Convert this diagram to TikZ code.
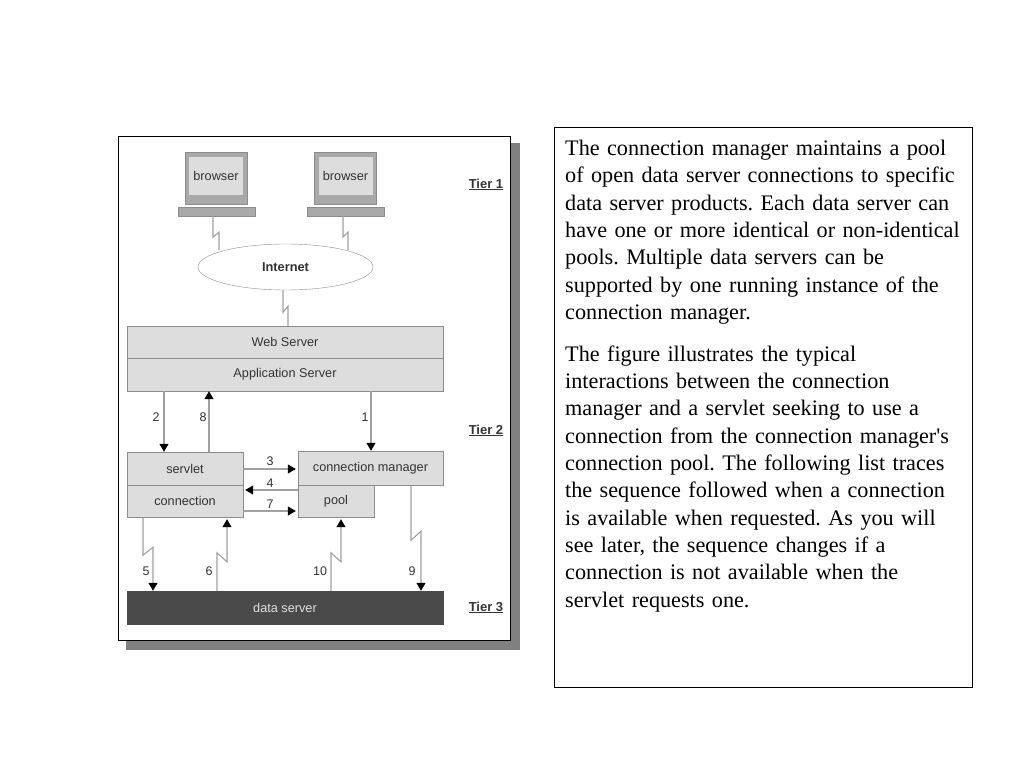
\documentclass[tikz,border=0pt]{standalone}
\usepackage{fontspec}
\newfontfamily\bodyfont{Liberation Serif}
\newfontfamily\figfont{Liberation Sans}
\usetikzlibrary{arrows.meta,shapes.geometric}
\definecolor{hatch}{HTML}{DDDDDD}
\definecolor{wiregray}{HTML}{8C8C8C}
\definecolor{linegray}{HTML}{A0A0A0}
\definecolor{shadowgray}{HTML}{808080}
\definecolor{darkfill}{HTML}{4A4A4A}
\definecolor{figtext}{HTML}{333333}
\tikzset{
  box/.style={draw=wiregray,fill=hatch,inner sep=0pt,text=figtext,font=\figfont\fontsize{12.7}{14}\selectfont},
  num/.style={inner sep=0pt,text=figtext,font=\figfont\fontsize{12.5}{14}\selectfont},
  tier/.style={inner sep=0pt,text=figtext,font=\figfont\bfseries\fontsize{13}{15}\selectfont},
  para/.style={inner sep=0pt,anchor=north west,align=left,text width=405pt,font=\bodyfont\fontsize{22.2}{27.33}\selectfont},
  wire/.style={draw=linegray,line width=1.1pt},
  arrow/.style={wire,-{Triangle[black,length=8pt,width=9pt]}}
}
\begin{document}
\begin{tikzpicture}[x=1pt,y=-1pt]
\useasboundingbox (0,0) rectangle (1024,768);

% figure panel
\fill[shadowgray] (126,143) rectangle (520,650);
\node[draw=black,fill=white,line width=0.8pt,inner sep=0pt,minimum width=392,minimum height=504] (panel) at (314,388) {};

% browsers
\node[box,fill=wiregray!75,minimum width=62,minimum height=52] (screen1) at (216,178) {};
\node[box,fill=wiregray!75,minimum width=62,minimum height=52] (screen2) at (345.5,178) {};
\node[box,draw=none,minimum width=54,minimum height=38] (browser1) at (216,176) {browser};
\node[box,draw=none,minimum width=54,minimum height=38] (browser2) at (345.5,176) {browser};
\node[box,fill=wiregray!75,minimum width=77,minimum height=9] (key1) at (216.5,211.5) {};
\node[box,fill=wiregray!75,minimum width=77,minimum height=9] (key2) at (345.5,211.5) {};

% internet and servers
\node[draw=wiregray,fill=white,ellipse,inner sep=0pt,minimum width=175,minimum height=46,text=figtext,font=\figfont\bfseries\fontsize{12.8}{14}\selectfont] (internet) at (285.5,267) {Internet};
\node[box,minimum width=316,minimum height=32] (web) at (285,342) {\raisebox{1pt}{Web Server}};
\node[box,minimum width=316,minimum height=33] (app) at (285,374.5) {Application Server};
\node[box,minimum width=116,minimum height=33] (servlet) at (185,468.5) {\raisebox{-1.5pt}{servlet}};
\node[box,minimum width=116,minimum height=32] (connection) at (185,501) {\raisebox{-1pt}{connection}};
\node[box,minimum width=145,minimum height=34] (manager) at (370.5,468) {connection manager};
\node[box,minimum width=76,minimum height=32] (pool) at (336,501) {pool};
\node[box,fill=darkfill,draw=darkfill,text=white!88!black,minimum width=316,minimum height=33] (data) at (285,607.5) {data server};

% lightning links
\draw[wire] ([xshift=-3.5pt]key1.south) -- ++(0,21) -- ++(6,-5) -- ++(0,18);
\draw[wire] ([xshift=-2.5pt]key2.south) -- ++(0,21) -- ++(5,-5) -- ++(0,18);
\draw[wire] ([xshift=-2.5pt]internet.south) -- ++(0,22) -- ++(5,-6) -- (web.north -| 288,0);

% arrows
\draw[arrow] (app.south -| 164,0) -- (servlet.north -| 164,0);
\draw[arrow] (servlet.north -| 209,0) -- (app.south -| 209,0);
\draw[arrow] (app.south -| 371,0) -- (manager.north -| 371,0);
\draw[arrow] (servlet.east |- 0,469) -- ([xshift=-2pt]manager.west |- 0,469);
\draw[arrow] (pool.west |- 0,490) -- ([xshift=2pt]connection.east |- 0,490);
\draw[arrow] (connection.east |- 0,511) -- ([xshift=-2pt]pool.west |- 0,511);
\draw[arrow] (connection.south -| 143,0) -- ++(0,38) -- ++(10,-8) -- (data.north -| 153,0);
\draw[arrow] (data.north -| 217,0) -- ++(0,-38) -- ++(10,9) -- ([yshift=-2pt]connection.south -| 227,0);
\draw[arrow] (data.north -| 331,0) -- ++(0,-38) -- ++(10,9) -- ([yshift=-2pt]pool.south -| 341,0);
\draw[arrow] (manager.south -| 411,0) -- ++(0,55) -- ++(10,-9) -- (data.north -| 421,0);

% numbers
\node[num] (n1) at (365,417) {1};
\node[num] (n2) at (156,417) {2};
\node[num] (n3) at (270,461) {3};
\node[num] (n4) at (270,483) {4};
\node[num] (n5) at (146,571) {5};
\node[num] (n6) at (209,571) {6};
\node[num] (n7) at (270,504) {7};
\node[num] (n8) at (203,417) {8};
\node[num] (n9) at (412,571) {9};
\node[num] (n10) at (320,571) {10};

\node[tier] (tier1) at (486,184.5) {\underline{Tier 1}};
\node[tier] (tier2) at (486,430.5) {\underline{Tier 2}};
\node[tier] (tier3) at (486,607.5) {\underline{Tier 3}};

% text column
\node[draw=black,line width=0.7pt,inner sep=0pt,minimum width=418,minimum height=560] (textbox) at (763.7,407) {};
\node[para] (para1) at (565,140) {\frenchspacing The connection manager maintains a pool\\
of open data server connections to specific\\
data server products. Each data server can\\
have one or more identical or non-identical\\
pools. Multiple data servers can be\\
supported by one running instance of the\\
connection manager.};
\node[para] (para2) at (565,345.5) {\frenchspacing The figure illustrates the typical\\
interactions between the connection\\
manager and a servlet seeking to use a\\
connection from the connection manager's\\
connection pool. The following list traces\\
the sequence followed when a connection\\
is available when requested. As you will\\
see later, the sequence changes if a\\
connection is not available when the\\
servlet requests one.};

\end{tikzpicture}
\end{document}
